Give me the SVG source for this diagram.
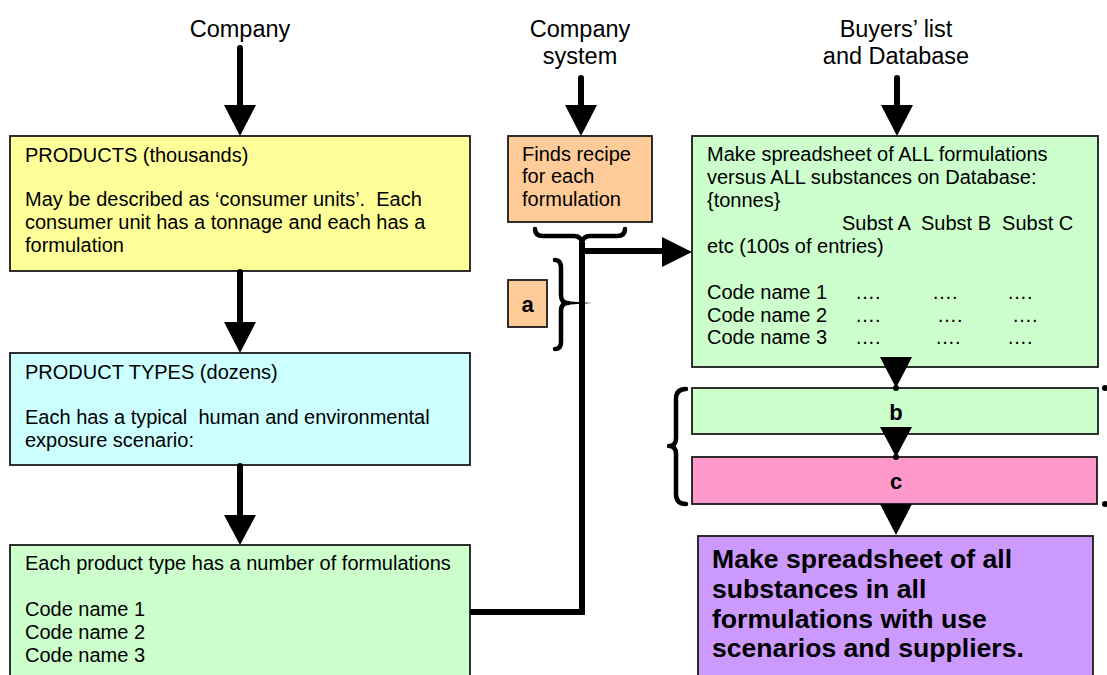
<svg xmlns="http://www.w3.org/2000/svg" width="1107" height="675" viewBox="0 0 1107 675">
<defs>
<style>
text { font-family: "Liberation Sans", Arial, sans-serif; fill: #000; white-space: pre; }
.t { font-size: 20px; }
.title { font-size: 23.5px; text-anchor: middle; }
.big { font-size: 26.6px; font-weight: bold; }
.lbl { font-size: 22px; font-weight: bold; text-anchor: middle; }
.box { stroke: #1a1a1a; stroke-width: 1.8; }
.shaft { stroke: #000; stroke-width: 6; fill: none; stroke-linecap: round; }
.line { stroke: #000; stroke-width: 6; fill: none; stroke-linejoin: miter; }
.brace { stroke: #000; stroke-width: 4.5; fill: none; stroke-linecap: round; stroke-linejoin: round; }
.head { fill: #000; }
</style>
</defs>
<rect width="1107" height="675" fill="#fff"/>

<g id="title-company"><text class="title" x="240" y="37">Company</text></g>
<g id="title-system"><text class="title" x="580" y="37">Company</text><text class="title" x="580" y="64">system</text></g>
<g id="title-buyers"><text class="title" x="896" y="37">Buyers’ list</text><text class="title" x="896" y="64">and Database</text></g>

<g id="products">
<rect class="box" x="10" y="136" width="460" height="135" fill="#FFFF99"/>
<text class="t" x="25" y="162">PRODUCTS (thousands)</text>
<text class="t" x="25" y="206">May be described as ‘consumer units’.  Each</text>
<text class="t" x="25" y="229">consumer unit has a tonnage and each has a</text>
<text class="t" x="25" y="252">formulation</text>
</g>

<g id="product-types">
<rect class="box" x="10" y="353" width="460" height="112" fill="#CCFFFF"/>
<text class="t" x="25" y="379">PRODUCT TYPES (dozens)</text>
<text class="t" x="25" y="424">Each has a typical  human and environmental</text>
<text class="t" x="25" y="447">exposure scenario:</text>
</g>

<g id="formulations">
<rect class="box" x="10" y="545" width="460" height="140" fill="#CCFFCC"/>
<text class="t" x="25" y="570">Each product type has a number of formulations</text>
<text class="t" x="25" y="616">Code name 1</text>
<text class="t" x="25" y="639">Code name 2</text>
<text class="t" x="25" y="662">Code name 3</text>
</g>

<g id="recipe">
<rect class="box" x="508" y="136" width="144" height="86" fill="#FFCC99"/>
<text class="t" x="522" y="161">Finds recipe</text>
<text class="t" x="522" y="183">for each</text>
<text class="t" x="522" y="206">formulation</text>
</g>

<g id="label-a">
<rect class="box" x="508" y="280" width="39" height="47" fill="#FFCC99"/>
<text class="lbl" x="527.5" y="312">a</text>
</g>

<g id="spreadsheet-all">
<rect class="box" x="692" y="136" width="406" height="231" fill="#CCFFCC"/>
<text class="t" x="707" y="161">Make spreadsheet of ALL formulations</text>
<text class="t" x="707" y="184">versus ALL substances on Database:</text>
<text class="t" x="707" y="207">{tonnes}</text>
<text class="t" x="842" y="230">Subst A  Subst B  Subst C</text>
<text class="t" x="707" y="253">etc (100s of entries)</text>
<text class="t" x="707" y="299">Code name 1</text>
<text class="t" x="707" y="322">Code name 2</text>
<text class="t" x="707" y="344">Code name 3</text>
<text class="t" x="855" y="299">….</text><text class="t" x="932" y="299">….</text><text class="t" x="1007" y="299">….</text>
<text class="t" x="855" y="322">….</text><text class="t" x="937" y="322">….</text><text class="t" x="1012" y="322">….</text>
<text class="t" x="855" y="344">….</text><text class="t" x="935" y="344">….</text><text class="t" x="1007" y="344">….</text>
</g>

<g id="box-b">
<rect class="box" x="692" y="388" width="406" height="46" fill="#CCFFCC"/>
<text class="lbl" x="896" y="420">b</text>
</g>

<g id="box-c">
<rect class="box" x="692" y="457" width="405" height="47" fill="#FF99CC"/>
<text class="lbl" x="896" y="489">c</text>
</g>

<g id="final">
<rect class="box" x="698" y="536" width="395" height="150" fill="#CC99FF"/>
<text class="big" x="712" y="568">Make spreadsheet of all</text>
<text class="big" x="712" y="598">substances in all</text>
<text class="big" x="712" y="628">formulations with use</text>
<text class="big" x="712" y="657">scenarios and suppliers.</text>
</g>

<g id="connectors">
<line class="shaft" x1="240" y1="48" x2="240" y2="108"/>
<polygon class="head" points="224,105 256,105 240,136"/>
<line class="shaft" x1="240" y1="272" x2="240" y2="325"/>
<polygon class="head" points="224,322 256,322 240,353"/>
<line class="shaft" x1="240" y1="466" x2="240" y2="518"/>
<polygon class="head" points="224,515 256,515 240,545"/>

<line class="shaft" x1="581" y1="78" x2="581" y2="108"/>
<polygon class="head" points="565,105 597,105 581,136"/>
<line class="shaft" x1="897" y1="78" x2="897" y2="108"/>
<polygon class="head" points="881,105 913,105 897,136"/>

<path class="brace" d="M535,229 Q535,236 543,236 L574,236 Q581,236 582,243 Q583,236 590,236 L617,236 Q625,236 625,229"/>
<polyline class="line" points="470,612 582,612 582,242"/>
<line class="line" x1="582" y1="251" x2="665" y2="251"/>
<polygon class="head" points="662,237 662,267 692,252"/>

<path class="brace" d="M555,260 Q561,260 561,268 L561,295 Q561,303 568,303 Q561,303 561,311 L561,342 Q561,349 555,349"/>
<polygon class="head" points="564,301 564,305 592,303"/>

<path class="brace" d="M686,389 Q676,389 676,399 L676,438 Q676,446 669,446 Q676,446 676,454 L676,494 Q676,504 686,504"/>

<polygon class="head" points="880,357 912,357 896,388"/>
<circle cx="896" cy="388" r="3"/>
<polygon class="head" points="880,427 912,427 896,457"/>
<circle cx="896" cy="457" r="3"/>
<polygon class="head" points="880,504 912,504 896,535"/>
<circle cx="1105" cy="388" r="3"/>
<circle cx="1105" cy="504" r="3"/>
</g>
</svg>
